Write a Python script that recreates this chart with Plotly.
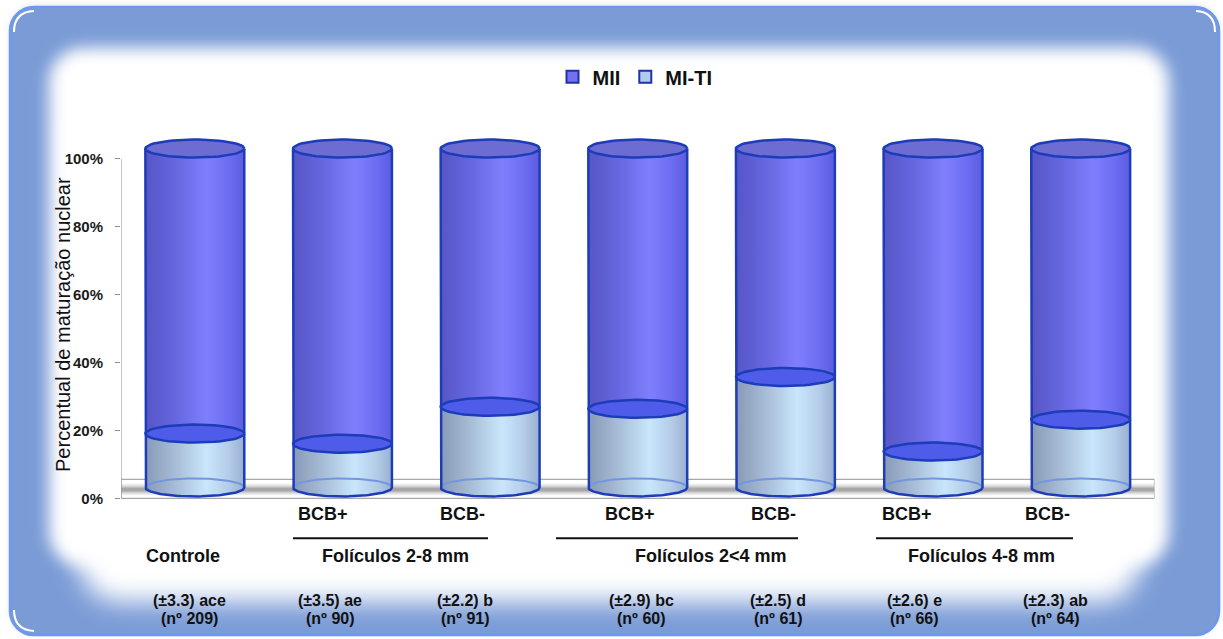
import base64
import numpy as np
import plotly.graph_objects as go

# ---------------------------------------------------------------- data
categories = ["Controle", "BCB+", "BCB-", "BCB+", "BCB-", "BCB+", "BCB-"]
group_names = ["Folículos 2-8 mm", "Folículos 2<4 mm", "Folículos 4-8 mm"]
mi_ti = [15.9, 12.9, 23.8, 23.2, 32.6, 10.6, 20.0]   # % MI-TI
mii = [84.1, 87.1, 76.2, 76.8, 67.4, 89.4, 80.0]     # % MII
sem = ["±3.3", "±3.5", "±2.2", "±2.9", "±2.5", "±2.6", "±2.3"]
letters = ["ace", "ae", "b", "bc", "d", "e", "ab"]
n_oocytes = [209, 90, 91, 60, 61, 66, 64]
y_ticks = [0, 20, 40, 60, 80, 100]

# ---------------------------------------------------------------- layout constants
W, H = 1223, 639
FONT = "Liberation Sans, Arial, sans-serif"
OUTLINE = "#1c3cb8"
MII_SCALE = [[0, "#5656c6"], [0.3, "#6666e0"], [0.62, "#7f7ffd"], [0.85, "#6c6cf2"], [1, "#5c5ce0"]]
MITI_SCALE = [[0, "#8799b6"], [0.3, "#a7bcd6"], [0.62, "#c9e6fd"], [0.85, "#b3cbe7"], [1, "#98b0d0"]]
MII_CAP = "#6c6cd2"
MITI_CAP = "#4f5cea"
BACK_ARC = "#7396dc"

HALF_W = 0.335      # cylinder half width (category units)
ELL_H = 2.65        # ellipse half height (percent units)

# pixel helpers for paper-referenced decoration
def px(x):
    return x / W


def py(y):
    return 1 - y / H


# plot area in pixels
DOM_X = (121, 1154.5)
DOM_Y = (128, 506)          # top, bottom
ZERO_Y, PX_PER_PCT = 500, 3.405          # value axis
CYL_ZERO_Y, CYL_PX_PER_PCT = 489, 3.40   # cylinders sit on the floor, set back in depth

y_range = [(ZERO_Y - DOM_Y[1]) / PX_PER_PCT, (ZERO_Y - DOM_Y[0]) / PX_PER_PCT]
y2_range = [(CYL_ZERO_Y - DOM_Y[1]) / CYL_PX_PER_PCT, (CYL_ZERO_Y - DOM_Y[0]) / CYL_PX_PER_PCT]


def arc(cx, cy, t0, t1, n=60):
    t = np.linspace(t0, t1, n)
    return cx + HALF_W * np.cos(t), cy + ELL_H * np.sin(t)


fig = go.Figure()

# floor shadow band
fig.add_trace(go.Scatter(
    x=[-0.5, 6.5, 6.5, -0.5, -0.5], y=[0.9, 0.9, 5.0, 5.0, 0.9],
    mode="lines", line=dict(width=0), fill="toself",
    fillgradient=dict(type="vertical", start=0.9, stop=5.0,
                      colorscale=[[0, "rgba(210,210,210,0)"], [0.42, "rgba(130,130,130,0.7)"],
                                  [0.58, "rgba(130,130,130,0.7)"], [1, "rgba(210,210,210,0)"]]),
    hoverinfo="skip", showlegend=False,
))

# cylinders
for i, cat in enumerate(categories):
    cx = float(i)
    low = mi_ti[i]
    top = mi_ti[i] + mii[i]
    fx, fy = arc(cx, 0.0, np.pi, 2 * np.pi)       # front half of the base

    # MI-TI body
    bx = np.concatenate([[cx - HALF_W, cx - HALF_W], fx, [cx + HALF_W, cx - HALF_W]])
    by = np.concatenate([[low, 0.0], fy, [low, low]])
    fig.add_trace(go.Scatter(
        x=bx, y=by, yaxis="y2", mode="lines", line=dict(width=0), fill="toself",
        fillgradient=dict(type="horizontal", start=cx - HALF_W, stop=cx + HALF_W, colorscale=MITI_SCALE),
        name="MI-TI", hovertemplate=f"{cat}<br>MI-TI: {low:.1f}%<extra></extra>", showlegend=False,
    ))
    # back half of the base, seen through the body
    ax, ay = arc(cx, 0.0, 0, np.pi)
    fig.add_trace(go.Scatter(x=ax, y=ay, yaxis="y2", mode="lines",
                             line=dict(color=BACK_ARC, width=2), hoverinfo="skip", showlegend=False))
    # MII body
    fig.add_trace(go.Scatter(
        x=[cx - HALF_W, cx - HALF_W, cx + HALF_W, cx + HALF_W, cx - HALF_W],
        y=[top, low, low, top, top], yaxis="y2", mode="lines", line=dict(width=0), fill="toself",
        fillgradient=dict(type="horizontal", start=cx - HALF_W, stop=cx + HALF_W, colorscale=MII_SCALE),
        name="MII", hovertemplate=f"{cat}<br>MII: {mii[i]:.1f}%<extra></extra>", showlegend=False,
    ))
    # MI-TI top cap
    ex, ey = arc(cx, low, 0, 2 * np.pi)
    fig.add_trace(go.Scatter(x=ex, y=ey, yaxis="y2", mode="lines", fill="toself", fillcolor=MITI_CAP,
                             line=dict(color=OUTLINE, width=2.5), hoverinfo="skip", showlegend=False))
    # MII top cap
    ex, ey = arc(cx, top, 0, 2 * np.pi)
    fig.add_trace(go.Scatter(x=ex, y=ey, yaxis="y2", mode="lines", fill="toself", fillcolor=MII_CAP,
                             line=dict(color=OUTLINE, width=2.5), hoverinfo="skip", showlegend=False))
    # silhouette
    ox = np.concatenate([[cx - HALF_W, cx - HALF_W], fx, [cx + HALF_W, cx + HALF_W]])
    oy = np.concatenate([[top, 0.0], fy, [0.0, top]])
    fig.add_trace(go.Scatter(x=ox, y=oy, yaxis="y2", mode="lines",
                             line=dict(color=OUTLINE, width=2.5), hoverinfo="skip", showlegend=False))

# legend entries
fig.add_trace(go.Bar(x=[None], y=[None], name="MII", yaxis="y2",
                     marker=dict(color="#7272f0", line=dict(color="#1f32a8", width=2))))
fig.add_trace(go.Bar(x=[None], y=[None], name="MI-TI", yaxis="y2",
                     marker=dict(color="#b3cbea", line=dict(color="#1f32a8", width=2))))

# ---------------------------------------------------------------- rounded glowing frame (svg backdrop)
frame_svg = f"""<svg xmlns="http://www.w3.org/2000/svg" width="{W}" height="{H}" viewBox="0 0 {W} {H}">
<defs>
<filter id="soft" x="-20%" y="-20%" width="140%" height="140%"><feGaussianBlur stdDeviation="8"/></filter>
<filter id="softer" x="-20%" y="-20%" width="140%" height="140%"><feGaussianBlur stdDeviation="13"/></filter>
<filter id="halo" x="-5%" y="-5%" width="110%" height="110%"><feGaussianBlur stdDeviation="3"/></filter>
<clipPath id="frame"><rect x="10" y="7" width="1209" height="630" rx="24"/></clipPath>
</defs>
<rect x="9" y="4" width="1211" height="634" rx="26" fill="#e6eaee" filter="url(#halo)"/>
<rect x="10" y="7" width="1209" height="630" rx="24" fill="#7a9bd6"/>
<g clip-path="url(#frame)">
<rect x="49" y="48" width="1120" height="520" rx="34" fill="#ffffff" filter="url(#soft)"/>
<rect x="80" y="80" width="1060" height="524" rx="40" fill="#ffffff" filter="url(#softer)"/>
</g>
<rect x="10" y="7" width="1209" height="630" rx="24" fill="none" stroke="#6c98ee" stroke-width="2.5"/>
<path d="M14,32 Q14,12 34,11" fill="none" stroke="#ffffff" stroke-width="2"/>
<path d="M1196,11 Q1215,12 1215,32" fill="none" stroke="#ffffff" stroke-width="2"/>
<path d="M14,612 Q14,632 34,633" fill="none" stroke="#ffffff" stroke-width="2"/>
</svg>"""
frame_uri = "data:image/svg+xml;base64," + base64.b64encode(frame_svg.encode()).decode()

# ---------------------------------------------------------------- decoration shapes
shapes = []
# floor and value axis line
shapes.append(dict(type="rect", xref="x", yref="y", x0=-0.5, x1=6.5, y0=0, y1=5.6, layer="below",
                   fillcolor="white", line=dict(color="#a8a8a8", width=1.2)))
shapes.append(dict(type="line", xref="x", yref="y", x0=-0.5, x1=-0.5, y0=0, y1=100,
                   line=dict(color="#a0a0a0", width=1.2)))
# bracket lines under the BCB labels
for (x0, x1) in [(293, 488), (556, 798), (876, 1073)]:
    shapes.append(dict(type="line", xref="paper", yref="paper", x0=px(x0), x1=px(x1),
                       y0=py(540), y1=py(540), line=dict(color="#111111", width=2)))

# ---------------------------------------------------------------- text
annotations = []


def label(text, x, y, size, weight="bold"):
    annotations.append(dict(text=text, x=px(x), y=py(y), xref="paper", yref="paper",
                            xanchor="center", yanchor="middle", showarrow=False,
                            font=dict(family=FONT, size=size, color="#111111", weight=weight)))


BCB_X = [323, 462, 630, 773, 907, 1047]
for j, x in enumerate(BCB_X):
    label(categories[j + 1], x, 516, 18)
label(categories[0], 183, 558, 18)
for name, x in zip(group_names, [395, 711, 981]):
    label(name, x, 558, 18)

STAT_X = [189, 330, 465, 641, 778, 915, 1055]
for i, x in enumerate(STAT_X):
    label(f"({sem[i]}) {letters[i]}", x, 602, 16)
    label(f"(nº {n_oocytes[i]})", x, 620, 16)

annotations.append(dict(text="Percentual de maturação nuclear", x=px(63), y=py(326),
                        xref="paper", yref="paper", xanchor="center", yanchor="middle",
                        textangle=-90, showarrow=False,
                        font=dict(family=FONT, size=20, color="#111111")))

fig.update_layout(
    width=W, height=H,
    margin=dict(l=0, r=0, t=0, b=0),
    paper_bgcolor="white", plot_bgcolor="rgba(0,0,0,0)",
    barmode="overlay",
    images=[dict(source=frame_uri, xref="paper", yref="paper", x=0, y=1, sizex=1, sizey=1,
                 xanchor="left", yanchor="top", sizing="stretch", layer="below")],
    xaxis=dict(domain=[px(DOM_X[0]), px(DOM_X[1])], range=[-0.5, 6.5], type="linear",
               showgrid=False, zeroline=False, showticklabels=False, ticks="", showline=False,
               fixedrange=True),
    yaxis=dict(domain=[py(DOM_Y[1]), py(DOM_Y[0])], range=y_range,
               tickvals=y_ticks, ticktext=[f"{v}%" for v in y_ticks],
               ticks="outside", ticklen=5, tickcolor="#909090", ticklabelstandoff=9,
               tickfont=dict(family=FONT, size=15, color="#1a1a1a", weight="bold"),
               showgrid=False, zeroline=False, showline=False, fixedrange=True),
    yaxis2=dict(overlaying="y", range=y2_range, visible=False, fixedrange=True),
    legend=dict(orientation="h", x=px(635), y=py(77), xanchor="center", yanchor="middle",
                font=dict(family=FONT, size=20, color="#111111", weight="bold"),
                itemwidth=30, bgcolor="rgba(0,0,0,0)", traceorder="normal"),
    shapes=shapes,
    annotations=annotations,
    hovermode="closest",
)

fig.write_html("out.html")
